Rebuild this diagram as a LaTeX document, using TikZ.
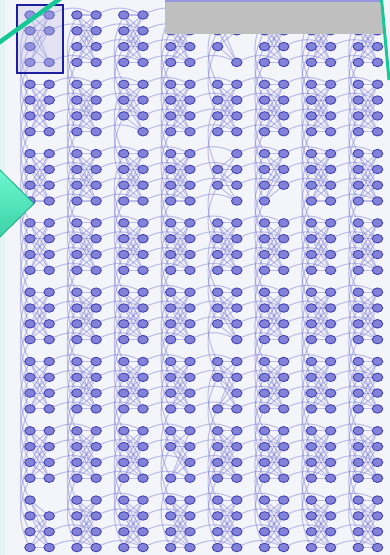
\documentclass[tikz,border=0pt]{standalone}
\usetikzlibrary{shapes.geometric}

\pgfdeclarelayer{bg}
\pgfdeclarelayer{edges}
\pgfdeclarelayer{fg}
\pgfsetlayers{bg,edges,main,fg}

\definecolor{panel}{RGB}{244,244,251}
\definecolor{strip}{RGB}{228,243,243}
\definecolor{qfill}{RGB}{130,130,216}
\definecolor{qline}{RGB}{66,66,180}
\definecolor{clink}{RGB}{125,125,212}
\definecolor{cellbox}{RGB}{30,30,160}
\definecolor{mint}{RGB}{22,200,150}
\definecolor{mintlight}{RGB}{110,248,210}
\definecolor{mintdark}{RGB}{20,170,125}

\tikzset{
    qubit/.style={ellipse, draw=qline, fill=qfill, line width=0.9pt,
        minimum width=10.5pt, minimum height=8.5pt, inner sep=0pt},
    coupler/.style={clink, opacity=0.45, line width=1.1pt}
}

% 两端都存在时才画耦合线
\newcommand\qlink[3]{%
    \ifcsname pgf@sh@ns@#2\endcsname
        \ifcsname pgf@sh@ns@#3\endcsname
            \draw[coupler] (#2) to[#1] (#3);
        \fi
    \fi}

% 缺失的量子比特
\foreach \q in {R-0-0-2, R-0-4-2, L-0-4-3, L-1-2-3, L-2-4-0, L-2-4-3,
                R-2-5-3, L-4-4-3, L-5-4-2, L-6-3-2, R-7-0-0} {
    \expandafter\gdef\csname skip-\q\endcsname{}
}

\begin{document}
\begin{tikzpicture}[x=1pt, y=-1pt]
    \useasboundingbox (0, 0) rectangle (390, 555);

    % 背景
    \begin{pgfonlayer}{bg}
        \fill[panel] (0, 0) rectangle (390, 555);
        \fill[strip] (0, 0) rectangle (5, 555);
    \end{pgfonlayer}

    % 8x8 个单元，每个单元两列各4个量子比特
    \foreach \r in {0,...,7} {
        \foreach \c in {0,...,7} {
            \foreach \k in {0,...,3} {
                \ifcsname skip-L-\r-\c-\k\endcsname\else
                    \node[qubit] (L-\r-\c-\k) at ({30+46.9*\c}, {15+69.3*\r+15.8*\k}) {};
                \fi
                \ifcsname skip-R-\r-\c-\k\endcsname\else
                    \node[qubit] (R-\r-\c-\k) at ({49.2+46.9*\c}, {15+69.3*\r+15.8*\k}) {};
                \fi
            }
        }
    }

    \begin{pgfonlayer}{edges}
        % 单元内部：完全二部图
        \foreach \r in {0,...,7} {
            \foreach \c in {0,...,7} {
                \foreach \i in {0,...,3} {
                    \foreach \j in {0,...,3} {
                        \qlink{}{L-\r-\c-\i}{R-\r-\c-\j}
                    }
                }
            }
        }
        % 水平耦合
        \foreach \r in {0,...,7} {
            \foreach \c [count=\cc from 1] in {0,...,6} {
                \foreach \k in {0,...,3} {
                    \qlink{bend left=25}{R-\r-\c-\k}{R-\r-\cc-\k}
                }
            }
        }
        % 竖直耦合
        \foreach \r [count=\rr from 1] in {0,...,6} {
            \foreach \c in {0,...,7} {
                \foreach \k in {0,...,3} {
                    \qlink{bend right=25}{L-\r-\c-\k}{L-\rr-\c-\k}
                }
            }
        }
    \end{pgfonlayer}

    % 覆盖层
    \begin{pgfonlayer}{fg}
        \draw[cellbox, line width=2pt, fill=cellbox!30, fill opacity=0.3] (17, 5) rectangle (63, 73);
        \fill[gray!50] (165, 0) rectangle (383, 34);
        \draw[clink!80, line width=1.5pt] (165, 0.75) -- (383, 0.75);
        \draw[mint, line width=4.5pt] (-3, 44) -- (61, -2);
        \draw[mint, line width=3pt] (381.5, -1) -- (389, 80);
        \shade[top color=mintlight, bottom color=mint!85, draw=mintdark, line width=0.8pt]
            (-3, 167) -- (34, 203.5) -- (-3, 240) -- cycle;
    \end{pgfonlayer}
\end{tikzpicture}
\end{document}
